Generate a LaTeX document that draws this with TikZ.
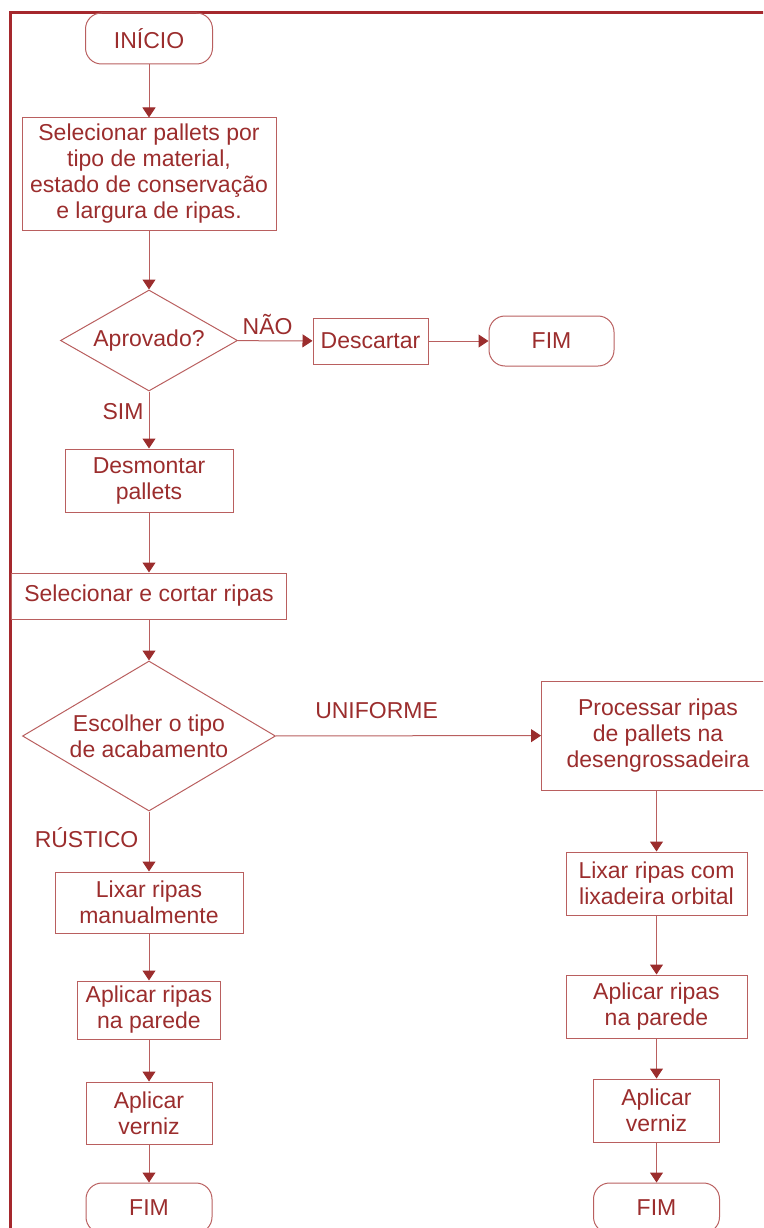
\documentclass[tikz,border=0pt]{standalone}
\usepackage{fontspec}
\setmainfont{Liberation Sans}
\usetikzlibrary{shapes.geometric,arrows.meta}
\definecolor{txtred}{RGB}{155,45,45}
\definecolor{linered}{RGB}{185,95,95}
\definecolor{framered}{RGB}{165,40,45}
\tikzset{
  caixa/.style={draw=linered, line width=1pt, rectangle, inner sep=0pt, align=center, text=txtred},
  terminal/.style={caixa, rounded corners=16pt},
  decisao/.style={draw=linered, line width=1pt, diamond, inner sep=0pt, align=center, text=txtred},
  seta/.style={draw=linered, line width=1pt, -{Triangle[width=13pt,length=10pt,color=txtred,fill=txtred]}},
  rotulo/.style={text=txtred, inner sep=0pt}
}
\begin{document}
\begin{tikzpicture}[x=1pt, y=-1pt, every node/.style={font=\fontsize{23}{26}\selectfont}]
  \clip (0,0) rectangle (763,1228);
  % moldura
  \draw[framered, line width=3pt] (10.5,1240) -- (10.5,13) -- (780,13);

  % coluna principal
  \node at (149,38.5) [terminal, minimum width=127pt, minimum height=51pt] (inicio) {INÍCIO};
  \node at (149,174) [caixa, minimum width=254pt, minimum height=112pt] (selpal) {Selecionar pallets por\\tipo de material,\\estado de conservação\\e largura de ripas.};
  \node at (149,340.5) [decisao, minimum width=177pt, minimum height=101pt, aspect=1.75] (aprov) {Aprovado?};
  \node at (370.5,341) [caixa, minimum width=115pt, minimum height=46pt] (desc) {Descartar};
  \node at (551.5,341) [terminal, minimum width=125pt, minimum height=50pt] (fimdesc) {FIM};
  \node at (149,480.5) [caixa, minimum width=168pt, minimum height=63pt] (desm) {Desmontar\\pallets};
  \node at (149,596) [caixa, minimum width=275pt, minimum height=46pt] (cortar) {Selecionar e cortar ripas};
  \node at (149,736) [decisao, minimum width=253pt, minimum height=150pt, aspect=1.69] (acab) {Escolher o tipo\\de acabamento};

  % acabamento rustico
  \node at (149,902.5) [caixa, minimum width=188pt, minimum height=61pt] (lixman) {Lixar ripas\\manualmente};
  \node at (149,1010) [caixa, minimum width=143pt, minimum height=58pt] (aplesq) {Aplicar ripas\\na parede};
  \node at (149,1113) [caixa, minimum width=126pt, minimum height=62pt] (vernesq) {Aplicar\\verniz};
  \node at (149,1208) [terminal, minimum width=126pt, minimum height=50pt] (fimesq) {FIM};

  % acabamento uniforme
  \node at (658,735.5) [caixa, minimum width=233pt, minimum height=109pt] (proc) {Processar ripas\\de pallets na\\desengrossadeira};
  \node at (656.5,883.5) [caixa, minimum width=181pt, minimum height=63pt] (lixorb) {Lixar ripas com\\lixadeira orbital};
  \node at (656.5,1006.5) [caixa, minimum width=181pt, minimum height=63pt] (apldir) {Aplicar ripas\\na parede};
  \node at (656.5,1110.5) [caixa, minimum width=126pt, minimum height=63pt] (verndir) {Aplicar\\verniz};
  \node at (656.5,1208) [terminal, minimum width=126pt, minimum height=50pt] (fimdir) {FIM};

  % ligacoes
  \draw[seta] (inicio) -- (selpal);
  \draw[seta] (selpal) -- (aprov);
  \draw[seta] (aprov) -- (desc) node[rotulo, pos=0.4, yshift=16pt] {NÃO};
  \draw[seta] (desc) -- (fimdesc);
  \draw[seta] (aprov) -- (desm) node[rotulo, pos=0.36, xshift=-26pt] {SIM};
  \draw[seta] (desm) -- (cortar);
  \draw[seta] (cortar) -- (acab);
  \draw[seta] (acab) -- (proc) node[rotulo, pos=0.38, yshift=25pt] {UNIFORME};
  \draw[seta] (acab) -- (lixman) node[rotulo, pos=0.43, xshift=-62.5pt] {RÚSTICO};
  \draw[seta] (lixman) -- (aplesq);
  \draw[seta] (aplesq) -- (vernesq);
  \draw[seta] (vernesq) -- (fimesq);
  \draw[seta] (lixorb |- proc.south) -- (lixorb);
  \draw[seta] (lixorb) -- (apldir);
  \draw[seta] (apldir) -- (verndir);
  \draw[seta] (verndir) -- (fimdir);
\end{tikzpicture}
\end{document}
